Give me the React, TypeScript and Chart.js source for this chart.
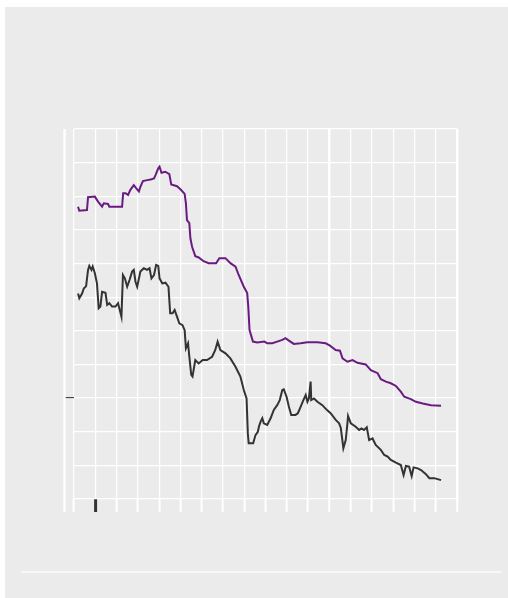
import React, { useEffect, useRef } from "react";
import { Chart, registerables } from "chart.js";

Chart.register(...registerables);

// Purple series (x in days-like units, y in index units)
const purpleX = [1.9, 2.5, 6.1, 6.6, 9.8, 11.3, 13.2, 14.0, 16.0, 16.6, 22.6, 23.1, 24.2, 25.4, 26.5, 28.1, 29.2, 30.5, 31.2, 32.4, 34.4, 36.0, 37.6, 38.3, 39.6, 40.2, 41.1, 42.9, 44.8, 45.7, 48.4, 50.0, 52.0, 52.6, 53.1, 54.2, 54.7, 55.5, 57.0, 58.6, 60.9, 63.3, 66.8, 68.3, 71.2, 73.5, 75.9, 77.4, 79.8, 81.4, 81.9, 82.5, 84.1, 86.1, 89.5, 90.8, 93.2, 95.5, 97.9, 99.4, 101.0, 103.3, 106.5, 109.7, 114.4, 118.3, 120.3, 123.0, 125.0, 126.2, 128.5, 130.9, 133.2, 137.1, 139.5, 142.7, 144.2, 146.6, 148.9, 151.3, 153.6, 155.2, 158.3, 160.7, 163.9, 167.8, 172.5];
const purpleY = [86.9, 85.7, 85.9, 89.7, 89.9, 88.4, 86.9, 87.9, 87.7, 86.9, 86.9, 90.9, 90.9, 90.4, 91.9, 93.3, 92.4, 91.4, 92.8, 94.5, 94.8, 95.0, 95.3, 96.3, 98.3, 98.8, 97.0, 97.3, 96.6, 93.5, 93.0, 92.1, 90.7, 87.9, 82.9, 82.0, 77.5, 75.0, 72.2, 71.8, 70.7, 70.1, 70.1, 71.6, 71.6, 70.1, 69.1, 66.6, 63.1, 61.2, 57.2, 50.2, 46.8, 46.5, 46.8, 46.3, 46.3, 46.8, 47.3, 47.8, 47.1, 46.1, 46.3, 46.6, 46.6, 46.3, 45.6, 44.3, 44.1, 41.8, 40.8, 41.3, 40.5, 40.0, 38.3, 37.4, 35.6, 34.9, 34.4, 33.6, 31.9, 30.4, 29.7, 28.9, 28.4, 27.9, 27.7];

// Dark series
const darkX = [1.9, 2.5, 3.8, 4.6, 5.7, 6.6, 7.2, 8.2, 8.8, 9.8, 10.8, 11.6, 12.4, 13.2, 14.8, 15.6, 16.6, 17.9, 19.5, 20.7, 21.5, 22.3, 23.0, 23.9, 25.0, 26.1, 27.3, 28.1, 28.9, 29.7, 31.2, 32.8, 34.4, 35.5, 36.4, 37.6, 38.6, 39.6, 40.2, 41.5, 43.0, 44.4, 45.2, 46.3, 47.3, 48.4, 49.5, 51.0, 52.0, 52.6, 53.6, 54.2, 55.1, 55.7, 57.0, 58.6, 60.5, 62.5, 64.9, 66.4, 67.5, 68.8, 71.2, 73.5, 75.9, 78.2, 79.8, 81.1, 81.7, 82.1, 84.2, 85.3, 86.4, 86.9, 87.7, 88.5, 89.2, 90.8, 92.4, 93.9, 95.5, 96.7, 97.9, 98.6, 99.9, 101.0, 102.1, 104.1, 105.2, 106.5, 107.8, 108.9, 109.7, 110.4, 111.2, 111.5, 112.8, 114.4, 116.7, 118.8, 120.6, 123.0, 124.6, 125.4, 126.6, 127.7, 128.5, 128.8, 130.1, 132.4, 134.0, 135.1, 136.3, 137.6, 138.7, 140.3, 141.8, 144.2, 145.8, 147.4, 148.9, 151.3, 153.6, 154.9, 156.0, 157.5, 158.7, 159.6, 161.5, 163.1, 165.4, 167.0, 169.3, 170.9, 172.5];
const darkY = [61.1, 59.7, 61.1, 62.6, 63.3, 68.1, 69.3, 68.1, 69.1, 67.1, 64.1, 56.7, 57.2, 61.6, 61.3, 57.7, 58.2, 57.2, 57.2, 58.2, 56.2, 54.2, 66.6, 65.6, 63.1, 65.1, 67.6, 68.1, 64.6, 63.1, 67.6, 68.6, 68.1, 68.6, 65.6, 66.6, 69.6, 69.3, 65.6, 64.1, 64.3, 63.1, 55.2, 55.2, 56.2, 54.2, 52.2, 51.7, 50.2, 44.8, 46.3, 42.3, 36.9, 36.4, 41.3, 40.3, 41.3, 41.3, 42.3, 44.3, 46.8, 44.3, 43.3, 41.8, 39.3, 36.4, 32.4, 29.9, 19.5, 16.6, 16.6, 19.0, 20.0, 21.5, 23.0, 24.0, 22.5, 22.0, 24.0, 26.5, 27.9, 29.4, 32.4, 32.6, 30.4, 27.4, 25.0, 25.0, 25.5, 27.4, 29.4, 30.9, 28.9, 29.9, 34.9, 29.4, 29.9, 28.9, 27.9, 26.5, 25.5, 23.5, 22.5, 21.1, 15.1, 17.5, 22.5, 24.7, 22.5, 21.5, 20.5, 21.0, 20.5, 21.3, 17.5, 18.0, 16.1, 14.6, 13.1, 12.6, 11.6, 10.8, 10.1, 7.1, 9.8, 9.6, 6.8, 9.4, 9.1, 8.6, 7.4, 6.2, 6.2, 5.9, 5.6];

const xMin = 0;
const xMax = 180;
const xStep = 10;
const yMin = 0;
const yMax = 110;
const yStep = 10;

const PURPLE = "#6a1b82";
const DARK = "#333333";
const PANEL = "#ebebeb";

const axisLinePlugin = {
  id: "axisLine",
  afterDraw(chart: any) {
    const { ctx, chartArea, scales } = chart;
    const ys = scales.y;
    const xs = scales.x;
    ctx.save();
    ctx.strokeStyle = "#ffffff";
    ctx.lineWidth = 2.4;
    ctx.beginPath();
    ctx.moveTo(ys.left + 0.5, chartArea.top);
    ctx.lineTo(ys.left + 0.5, xs.bottom);
    ctx.stroke();
    ctx.restore();
  },
};

export default function App() {
  const ref = useRef<HTMLCanvasElement | null>(null);

  useEffect(() => {
    if (!ref.current) return;
    const toPts = (xs: number[], ys: number[]) => xs.map((x, i) => ({ x, y: ys[i] }));
    const chart = new Chart(ref.current, {
      type: "line",
      data: {
        datasets: [
          {
            data: toPts(purpleX, purpleY),
            borderColor: PURPLE,
            borderWidth: 2,
            pointRadius: 0,
            tension: 0,
          },
          {
            data: toPts(darkX, darkY),
            borderColor: DARK,
            borderWidth: 2,
            pointRadius: 0,
            tension: 0,
          },
        ],
      },
      options: {
        animation: false,
        responsive: false,
        maintainAspectRatio: false,
        layout: { padding: { left: 59, top: 122, right: 51, bottom: 86 } },
        plugins: { legend: { display: false }, tooltip: { enabled: false } },
        scales: {
          x: {
            type: "linear",
            min: xMin,
            max: xMax,
            ticks: { stepSize: xStep, display: false },
            border: { display: false },
            grid: {
              color: "#ffffff",
              lineWidth: (c: any) => (c.index === 12 || c.index === 18 ? 2.5 : 1.2),
              drawTicks: true,
              tickLength: 13,
              tickColor: (c: any) => (c.index === 1 ? DARK : "#ffffff"),
              tickWidth: (c: any) => (c.index === 1 ? 3 : 2),
            },
          },
          y: {
            type: "linear",
            min: yMin,
            max: yMax,
            ticks: { stepSize: yStep, display: false },
            border: { display: false },
            grid: {
              color: "#ffffff",
              lineWidth: 1.2,
              drawTicks: true,
              tickLength: 10,
              tickColor: (c: any) => (c.index === 3 ? DARK : "rgba(0,0,0,0)"),
              tickWidth: 1,
            },
          },
        },
      },
      plugins: [axisLinePlugin],
    });
    return () => chart.destroy();
  }, []);

  return (
    <div
      style={{
        position: "fixed",
        left: 5,
        top: 7,
        width: 503,
        height: 591,
        background: PANEL,
      }}
    >
      <canvas ref={ref} width={503} height={591} style={{ display: "block" }} />
      <div
        style={{
          position: "absolute",
          left: 16,
          top: 564,
          width: 481,
          height: 2,
          background: "#f7f7f7",
        }}
      />
    </div>
  );
}
